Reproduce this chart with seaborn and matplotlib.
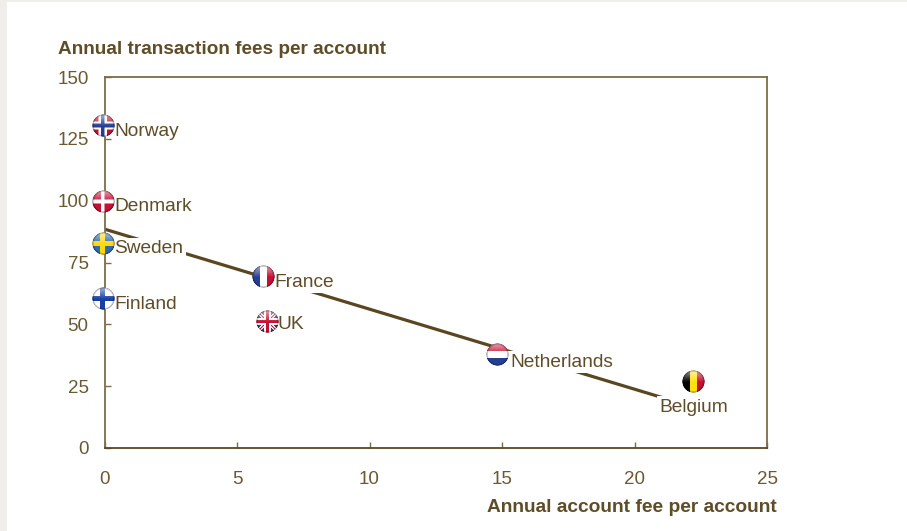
import numpy as np
import pandas as pd
import seaborn as sns
import matplotlib.pyplot as plt
from matplotlib.offsetbox import OffsetImage, AnnotationBbox
from matplotlib.patches import Rectangle

countries = ['Norway', 'Denmark', 'Sweden', 'Finland', 'France', 'UK', 'Netherlands', 'Belgium']
account_fee = [0, 0, 0, 0, 6.05, 6.2, 14.85, 22.25]
transaction_fee = [130.5, 99.5, 82.5, 60.5, 69.5, 51, 38, 27]
trend_x = [0, 22.25]
trend_y = [88.5, 16.5]

x_ticks = [0, 5, 10, 15, 20, 25]
y_ticks = [0, 25, 50, 75, 100, 125, 150]

# label position relative to the flag, in pixels
offsets = {'Norway': (10, -6), 'Denmark': (10, -5), 'Sweden': (10, -5), 'Finland': (10, -6),
           'France': (10, -6), 'UK': (9, -3), 'Netherlands': (12, -8), 'Belgium': (0, -26)}

TEXT = '#5f4c28'
TICK_TEXT = '#6a5933'
SPINE = '#7d6c47'
LINE = '#5a4621'

RED = (0.78, 0.06, 0.20)
BLUE = (0.15, 0.25, 0.58)
WHITE = (1, 1, 1)


def flag_colors(name, u, v):
    img = np.ones(u.shape + (3,))
    def fill(mask, col):
        img[mask] = col
    if name in ('Norway', 'Denmark', 'Sweden', 'Finland'):
        cx = -0.08
        if name == 'Norway':
            fill(np.ones(u.shape, bool), RED)
            fill((abs(u - cx) < 0.36) | (abs(v) < 0.36), WHITE)
            fill((abs(u - cx) < 0.17) | (abs(v) < 0.17), BLUE)
        if name == 'Denmark':
            fill(np.ones(u.shape, bool), RED)
            fill((abs(u - cx) < 0.17) | (abs(v) < 0.17), WHITE)
        if name == 'Sweden':
            fill(np.ones(u.shape, bool), (0.18, 0.42, 0.70))
            fill((abs(u - cx) < 0.2) | (abs(v) < 0.2), (1.0, 0.85, 0.05))
        if name == 'Finland':
            fill((abs(u - cx) < 0.24) | (abs(v) < 0.24), (0.10, 0.25, 0.65))
    if name == 'France':
        fill(u < -0.33, BLUE)
        fill(u > 0.33, RED)
    if name == 'Belgium':
        fill(u < -0.33, (0, 0, 0))
        fill(abs(u) <= 0.33, (1.0, 0.88, 0.05))
        fill(u > 0.33, RED)
    if name == 'Netherlands':
        fill(v > 0.33, RED)
        fill(v < -0.33, BLUE)
    if name == 'UK':
        fill(np.ones(u.shape, bool), BLUE)
        fill((abs(u - v) < 0.2) | (abs(u + v) < 0.2), WHITE)
        fill((abs(u - v) < 0.08) | (abs(u + v) < 0.08), RED)
        fill((abs(u) < 0.28) | (abs(v) < 0.28), WHITE)
        fill((abs(u) < 0.16) | (abs(v) < 0.16), RED)
    return img


def flag_image(name, n=92):
    g = np.linspace(-1, 1, n)
    u, vv = np.meshgrid(g, g)
    v = -vv
    img = flag_colors(name, u, v)
    r = np.sqrt(u ** 2 + v ** 2)
    # glossy upper half, darker rim
    gloss = np.clip(v + 0.05, 0, 1) * 0.6 * (v > -0.05)
    img = img + (1 - img) * gloss[..., None]
    shade = 1 - 0.45 * np.clip((r - 0.8) / 0.2, 0, 1)
    img = img * shade[..., None]
    alpha = np.clip((1 - r) * n / 4, 0, 1)
    return np.dstack([img, alpha])


df = pd.DataFrame({'country': countries, 'account': account_fee, 'transaction': transaction_fee})
trend = pd.DataFrame({'x': trend_x, 'y': trend_y})

sns.set_style('white')
plt.rcParams['font.family'] = ['Liberation Sans', 'DejaVu Sans']

fig = plt.figure(figsize=(9.07, 5.31), dpi=100, facecolor='#efeeea')
fig.patches.append(Rectangle((7 / 907, 0), 900 / 907, 529 / 531, transform=fig.transFigure,
                             facecolor='white', edgecolor='none', zorder=-10))
ax = fig.add_axes([104.5 / 907, (531 - 448) / 531, 662.5 / 907, 371 / 531])
ax.patch.set_alpha(0)

sns.lineplot(data=trend, x='x', y='y', color=LINE, linewidth=2.3, ax=ax, zorder=2, solid_capstyle='butt')
sns.scatterplot(data=df, x='account', y='transaction', s=60, color=SPINE, linewidth=0,
                ax=ax, zorder=1, clip_on=False)

for name, x, y in zip(countries, account_fee, transaction_fee):
    ha = 'center' if name == 'Belgium' else 'left'
    ax.annotate(name, (x, y), xytext=offsets[name], textcoords='offset pixels', ha=ha, va='center',
                fontsize=13.8, color=TEXT, zorder=3,
                bbox=dict(boxstyle='square,pad=0.14', facecolor='white', edgecolor='none'))
    flag = OffsetImage(flag_image(name), zoom=0.18)
    ab = AnnotationBbox(flag, (x, y), xybox=(-1, 0), boxcoords='offset pixels', frameon=False,
                        pad=0, zorder=4, annotation_clip=False)
    ax.add_artist(ab)

ax.set_xlim(0, 25)
ax.set_ylim(0, 150)
ax.set_xticks(x_ticks)
ax.set_yticks(y_ticks)
ax.tick_params(axis='both', direction='in', length=4, width=1, color=SPINE, labelcolor=TICK_TEXT,
               labelsize=13.5, left=True, bottom=True)
ax.tick_params(axis='x', pad=16.5)
ax.tick_params(axis='y', pad=11.5)
for s in ax.spines.values():
    s.set_visible(True)
    s.set_color(SPINE)
    s.set_linewidth(1.3)
ax.spines['bottom'].set_color(LINE)

ax.set_xlabel('')
ax.set_ylabel('')
fig.text(58 / 907, 1 - 49 / 531, 'Annual transaction fees per account', fontsize=13.7,
         fontweight='bold', color=TEXT, ha='left', va='center')
fig.text(777 / 907, 1 - 507.5 / 531, 'Annual account fee per account', fontsize=13.8,
         fontweight='bold', color=TEXT, ha='right', va='center')

fig.savefig('out.png', dpi=100, facecolor=fig.get_facecolor())
